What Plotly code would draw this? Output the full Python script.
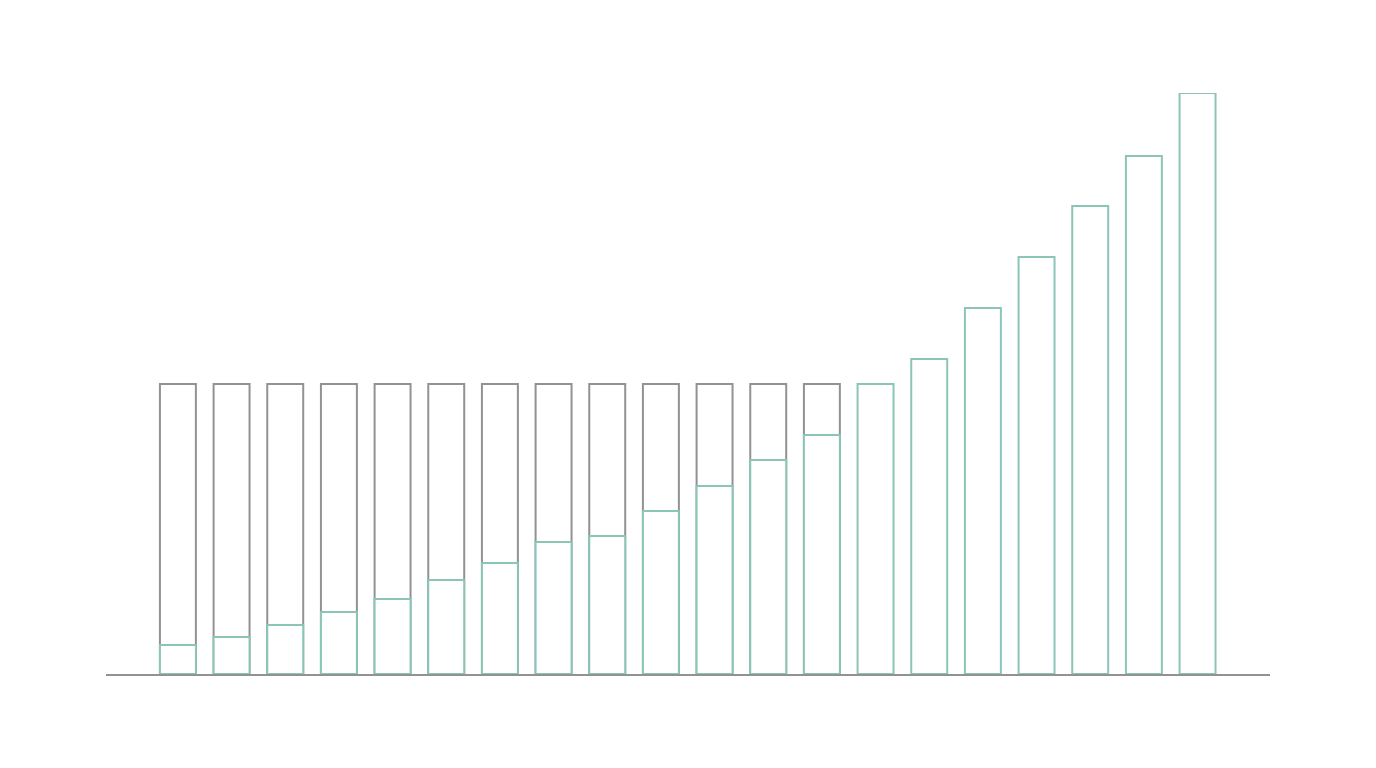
import plotly.graph_objects as go

# categories (20 bars, no visible labels)
positions = list(range(20))

# grey "capacity" bars (first 13) and teal values
capacity = [290] * 13 + [None] * 7
values = [29, 37, 49, 62, 75, 94, 111, 132, 138, 163, 188, 214, 239,
          290, 315, 366, 417, 468, 518, 581]

GREY = '#929292'
TEAL = '#8bc5b8'

fig = go.Figure()

# grey outline first, teal bars drawn over it with a white fill
fig.add_trace(go.Bar(
    x=positions, y=capacity, width=0.67, cliponaxis=False,
    marker=dict(color='white', line=dict(color=GREY, width=2)),
    hoverinfo='skip'))

fig.add_trace(go.Bar(
    x=positions, y=values, width=0.67, cliponaxis=False,
    marker=dict(color='white', line=dict(color=TEAL, width=2))))

fig.update_layout(
    width=1376, height=768,
    barmode='overlay',
    showlegend=False,
    paper_bgcolor='white',
    plot_bgcolor='white',
    margin=dict(l=98, r=114, t=85, b=102),
    xaxis=dict(range=[-1.34, 20.35], showgrid=False, zeroline=False,
               showticklabels=False, ticks='', showline=True,
               linecolor=GREY, linewidth=2, layer='below traces'),
    yaxis=dict(range=[0, 581], showgrid=False, zeroline=False,
               showticklabels=False, ticks='', showline=False),
)

fig.write_html("out.html")
